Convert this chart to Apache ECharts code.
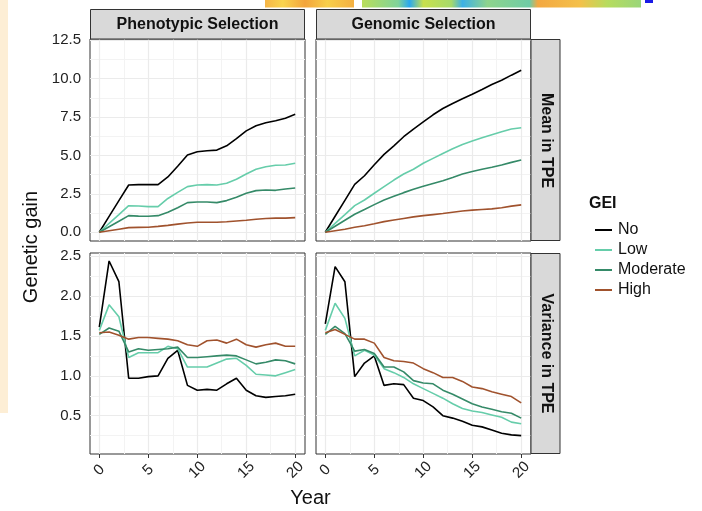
<!DOCTYPE html>
<html>
<head>
<meta charset="utf-8">
<script src="https://cdn.jsdelivr.net/npm/echarts@6/dist/echarts.min.js"></script>
<style>
html, body { margin: 0; padding: 0; background: #fff; }
#chart { width: 702px; height: 511px; }
</style>
</head>
<body>
<div id="chart"></div>
<script>
"use strict";

const years = [0, 1, 2, 3, 4, 5, 6, 7, 8, 9, 10, 11, 12, 13, 14, 15, 16, 17, 18, 19, 20];
const geiLevels = ["No", "Low", "Moderate", "High"];
const geiColors = ["#000000", "#66CDAA", "#358A68", "#A0522D"];

const yearTicks = [0, 5, 10, 15, 20];
const meanTicks = [0, 2.5, 5, 7.5, 10, 12.5];
const varTicks = [0.5, 1, 1.5, 2, 2.5];

// Phenotypic selection, mean in TPE
const phenoMeanNo = [0, 1.03, 2.06, 3.08, 3.1, 3.1, 3.1, 3.6, 4.3, 5.03, 5.24, 5.31, 5.35, 5.63, 6.1, 6.6, 6.93, 7.13, 7.26, 7.43, 7.69];
const phenoMeanLow = [0, 0.58, 1.15, 1.73, 1.71, 1.67, 1.67, 2.2, 2.6, 2.97, 3.08, 3.1, 3.08, 3.19, 3.45, 3.79, 4.1, 4.27, 4.36, 4.38, 4.49];
const phenoMeanModerate = [0, 0.36, 0.72, 1.08, 1.05, 1.04, 1.08, 1.3, 1.6, 1.93, 1.97, 1.97, 1.93, 2.06, 2.28, 2.54, 2.71, 2.75, 2.73, 2.82, 2.88];
const phenoMeanHigh = [0, 0.1, 0.2, 0.3, 0.32, 0.33, 0.38, 0.45, 0.53, 0.6, 0.65, 0.65, 0.65, 0.68, 0.73, 0.78, 0.85, 0.9, 0.92, 0.92, 0.95];

// Genomic selection, mean in TPE
const genoMeanNo = [0, 1.04, 2.08, 3.12, 3.68, 4.4, 5.07, 5.63, 6.22, 6.72, 7.19, 7.65, 8.06, 8.39, 8.69, 8.99, 9.3, 9.62, 9.9, 10.23, 10.55];
const genoMeanLow = [0, 0.58, 1.15, 1.73, 2.1, 2.54, 2.97, 3.4, 3.79, 4.1, 4.49, 4.81, 5.13, 5.44, 5.72, 5.94, 6.15, 6.35, 6.54, 6.72, 6.8];
const genoMeanModerate = [0, 0.39, 0.78, 1.17, 1.48, 1.8, 2.1, 2.34, 2.58, 2.8, 3.0, 3.18, 3.36, 3.57, 3.79, 3.95, 4.1, 4.23, 4.38, 4.55, 4.7];
const genoMeanHigh = [0, 0.1, 0.2, 0.32, 0.42, 0.55, 0.69, 0.8, 0.9, 1.0, 1.08, 1.15, 1.22, 1.3, 1.38, 1.44, 1.48, 1.52, 1.6, 1.7, 1.78];

// Phenotypic selection, variance in TPE
const phenoVarNo = [1.61, 2.44, 2.18, 0.97, 0.97, 0.99, 1.0, 1.22, 1.32, 0.88, 0.82, 0.83, 0.82, 0.9, 0.97, 0.82, 0.75, 0.73, 0.74, 0.75, 0.77];
const phenoVarLow = [1.57, 1.89, 1.74, 1.23, 1.29, 1.29, 1.29, 1.37, 1.34, 1.11, 1.11, 1.11, 1.16, 1.21, 1.22, 1.13, 1.02, 1.01, 1.0, 1.04, 1.08];
const phenoVarModerate = [1.52, 1.6, 1.56, 1.3, 1.34, 1.32, 1.33, 1.34, 1.36, 1.23, 1.23, 1.24, 1.25, 1.26, 1.25, 1.2, 1.15, 1.17, 1.2, 1.19, 1.15];
const phenoVarHigh = [1.54, 1.55, 1.51, 1.46, 1.48, 1.48, 1.47, 1.46, 1.44, 1.39, 1.37, 1.44, 1.45, 1.41, 1.46, 1.39, 1.36, 1.39, 1.41, 1.37, 1.37];

// Genomic selection, variance in TPE
const genoVarNo = [1.65, 2.37, 2.18, 0.99, 1.16, 1.25, 0.88, 0.9, 0.89, 0.72, 0.69, 0.61, 0.5, 0.47, 0.43, 0.38, 0.36, 0.32, 0.28, 0.26, 0.25];
const genoVarLow = [1.57, 1.91, 1.72, 1.25, 1.32, 1.26, 1.09, 1.04, 0.98, 0.9, 0.84, 0.78, 0.72, 0.65, 0.59, 0.56, 0.54, 0.51, 0.48, 0.42, 0.4];
const genoVarModerate = [1.52, 1.62, 1.53, 1.31, 1.33, 1.28, 1.11, 1.11, 1.05, 0.94, 0.91, 0.9, 0.82, 0.77, 0.71, 0.65, 0.61, 0.58, 0.55, 0.53, 0.47];
const genoVarHigh = [1.54, 1.58, 1.52, 1.46, 1.46, 1.41, 1.23, 1.19, 1.18, 1.16, 1.09, 1.04, 0.98, 0.98, 0.93, 0.86, 0.84, 0.8, 0.77, 0.74, 0.66];

const panels = [
    [phenoMeanNo, phenoMeanLow, phenoMeanModerate, phenoMeanHigh],
    [genoMeanNo, genoMeanLow, genoMeanModerate, genoMeanHigh],
    [phenoVarNo, phenoVarLow, phenoVarModerate, phenoVarHigh],
    [genoVarNo, genoVarLow, genoVarModerate, genoVarHigh]
];

const FONT = "'Liberation Sans', Arial, Helvetica, sans-serif";
const panelLeft = [90, 316];
const panelTop = [39, 253];
const panelW = 215;
const panelH = [202, 201];
const yRange = [[-0.57, 12.585], [0.02, 2.54]];

function minors(ticks) {
    let step = ticks[1] - ticks[0];
    let out = [];
    for (let i = -1; i < ticks.length; i++) {
        out.push(ticks[0] + (i + 0.5) * step);
    }
    return out;
}

let grids = [], xAxes = [], yAxes = [], series = [];

for (let p = 0; p < 4; p++) {
    let row = Math.floor(p / 2), col = p % 2;
    let yTicks = row === 0 ? meanTicks : varTicks;
    grids.push({
        left: panelLeft[col], top: panelTop[row], width: panelW, height: panelH[row],
        show: true, borderColor: "#333333", borderWidth: 1, backgroundColor: "#ffffff"
    });
    xAxes.push({
        type: "value", gridIndex: p, min: -0.95, max: 21,
        axisLine: { show: false },
        splitLine: { show: false },
        axisTick: { show: row === 1, customValues: yearTicks, length: 4, lineStyle: { color: "#333333", width: 1 } },
        axisLabel: {
            show: row === 1, customValues: yearTicks, rotate: 45, align: "center", verticalAlign: "middle",
            margin: 16, fontFamily: FONT, fontSize: 15, color: "#222222"
        }
    });
    yAxes.push({
        type: "value", gridIndex: p, min: yRange[row][0], max: yRange[row][1],
        axisLine: { show: false },
        splitLine: { show: false },
        axisTick: { show: col === 0, customValues: yTicks, length: 4, lineStyle: { color: "#333333", width: 1 } },
        axisLabel: {
            show: col === 0, customValues: yTicks, margin: 9, padding: [3, 0, 0, 0],
            fontFamily: FONT, fontSize: 15, color: "#222222",
            formatter: v => v.toFixed(1)
        }
    });

    // panel grid lines, major and minor
    let lines = [];
    minors(yearTicks).forEach(v => lines.push({ xAxis: v, lineStyle: { color: "#F3F3F3", width: 1, type: "solid" } }));
    minors(yTicks).forEach(v => lines.push({ yAxis: v, lineStyle: { color: "#F3F3F3", width: 1, type: "solid" } }));
    yearTicks.forEach(v => lines.push({ xAxis: v, lineStyle: { color: "#EBEBEB", width: 1.2, type: "solid" } }));
    yTicks.forEach(v => lines.push({ yAxis: v, lineStyle: { color: "#EBEBEB", width: 1.2, type: "solid" } }));
    series.push({
        type: "line", xAxisIndex: p, yAxisIndex: p, data: [], z: 1, silent: true,
        markLine: {
            z: 1, silent: true, symbol: ["none", "none"], animation: false,
            lineStyle: { type: "solid" },
            label: { show: false }, emphasis: { disabled: true },
            data: lines.filter(l => (l.yAxis === undefined || (l.yAxis > yRange[row][0] && l.yAxis < yRange[row][1])))
        }
    });

    for (let k = 0; k < geiLevels.length; k++) {
        series.push({
            name: geiLevels[k], type: "line", xAxisIndex: p, yAxisIndex: p, z: 3,
            showSymbol: false, symbol: "none", smooth: false,
            itemStyle: { color: geiColors[k] },
            lineStyle: { color: geiColors[k], width: 1.6 },
            data: years.map((y, i) => [y, panels[p][k][i]])
        });
    }
}

function strip(x, y, w, h) {
    return { type: "rect", shape: { x: x, y: y, width: w, height: h },
        style: { fill: "#D9D9D9", stroke: "#333333", lineWidth: 1 }, z: 10 };
}
function label(text, x, y, size, bold, rot) {
    return { type: "text", x: x, y: y, rotation: rot || 0, z: 11,
        style: { text: text, fill: "#111111", font: (bold ? "bold " : "") + size + "px " + FONT,
            align: "center", verticalAlign: "middle" } };
}

let graphics = [
    // leftover bits of neighbouring figures in the screenshot
    { type: "rect", shape: { x: 0, y: 0, width: 8, height: 413 }, style: { fill: "#FDEED5" } },
    { type: "rect", shape: { x: 265, y: 0, width: 89, height: 7.5 },
        style: { fill: new echarts.graphic.LinearGradient(0, 0, 1, 0, [
            { offset: 0, color: "#F6B547" }, { offset: 0.2, color: "#F9D44E" }, { offset: 0.45, color: "#F3A43C" },
            { offset: 0.7, color: "#F8CF4A" }, { offset: 1, color: "#F4B042" }]) } },
    { type: "rect", shape: { x: 362, y: 0, width: 279, height: 7.5 },
        style: { fill: new echarts.graphic.LinearGradient(0, 0, 1, 0, [
            { offset: 0, color: "#B9DE5A" }, { offset: 0.13, color: "#7FD39A" }, { offset: 0.17, color: "#2AA8EE" },
            { offset: 0.22, color: "#C8E04C" }, { offset: 0.32, color: "#A6DA6A" }, { offset: 0.36, color: "#3CB0E6" },
            { offset: 0.45, color: "#8ED48C" }, { offset: 0.6, color: "#6FCCA6" }, { offset: 0.63, color: "#F3A842" },
            { offset: 0.78, color: "#F4C04A" }, { offset: 0.88, color: "#B6DC5E" }, { offset: 1, color: "#9AD67A" }]) } },
    { type: "rect", shape: { x: 645, y: 0, width: 8, height: 3 }, style: { fill: "#1A1AE6" } },

    strip(90.5, 9.5, 214, 29.5),
    strip(316.5, 9.5, 214, 29.5),
    strip(531, 39.5, 29, 201),
    strip(531, 253.5, 29, 200),
    label("Phenotypic Selection", 197.5, 24.5, 16, true),
    label("Genomic Selection", 423.5, 24.5, 16, true),
    label("Mean in TPE", 546, 140.5, 16, true, -Math.PI / 2),
    label("Variance in TPE", 546, 353.5, 16, true, -Math.PI / 2),
    label("Genetic gain", 31, 247, 20, false, Math.PI / 2),
    label("Year", 310.5, 498, 20, false),
    { type: "text", left: 589, top: 196, z: 11,
        style: { text: "GEI", fill: "#111111", font: "bold 16px " + FONT } }
];

let chart = echarts.init(document.getElementById("chart"), null, { renderer: "canvas" });
chart.setOption({
    animation: false,
    backgroundColor: "#ffffff",
    grid: grids,
    xAxis: xAxes,
    yAxis: yAxes,
    series: series,
    legend: {
        data: geiLevels, orient: "vertical", left: 590, top: 217,
        icon: "rect", itemWidth: 17, itemHeight: 2, itemGap: 4, selectedMode: false,
        textStyle: { fontFamily: FONT, fontSize: 16, color: "#111111", lineHeight: 16, padding: [0, 0, 0, 1] }
    },
    graphic: graphics
});
</script>
</body>
</html>
